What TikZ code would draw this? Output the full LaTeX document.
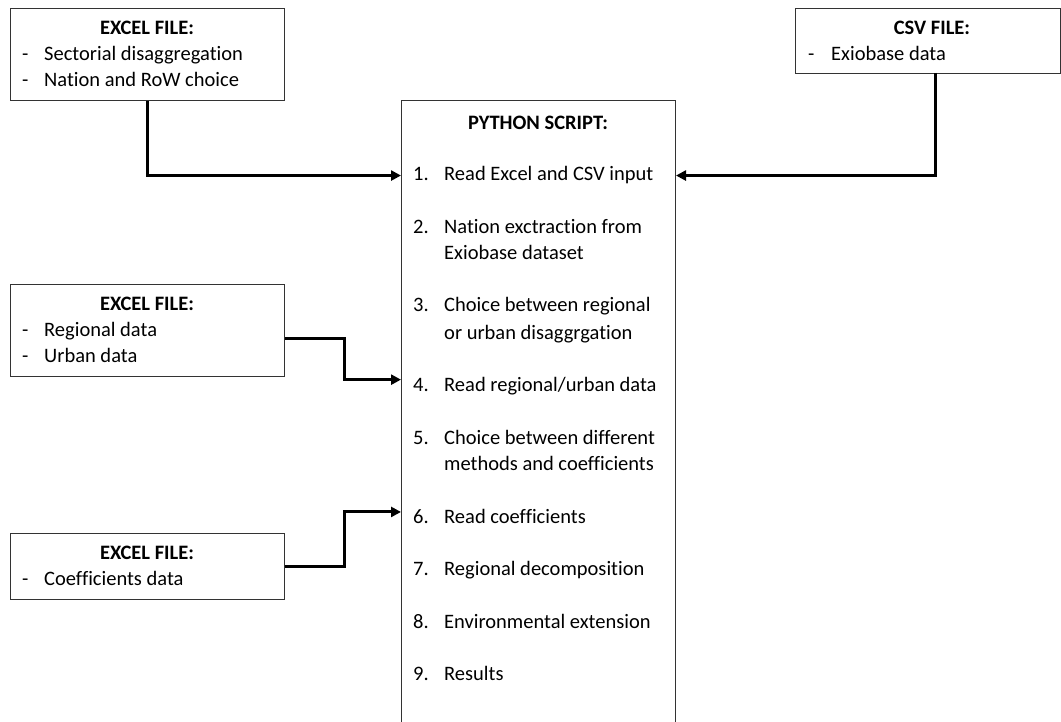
\documentclass[tikz,border=0pt]{standalone}
\usepackage{fontspec}
\setmainfont{Carlito}[Ligatures=NoCommon]
\usetikzlibrary{arrows.meta}

\begin{document}
\begin{tikzpicture}[x=1pt, y=-1pt]
\tikzset{boite/.style={draw=black!80, line width=1pt, fill=white, rectangle, inner sep=0pt, anchor=north west},
	titre/.style={font=\fontsize{20.5}{24}\selectfont\bfseries, inner sep=0pt, anchor=base},
	texte/.style={font=\fontsize{20.5}{24}\selectfont, anchor=base west, inner sep=0pt},
	fleche/.style={-{Triangle[length=10pt, width=10pt]}, line width=3pt}};

\useasboundingbox (0,0) rectangle (1061,722);
\clip (0,0) rectangle (1061,722);

% boites
\node[boite, minimum width=274pt, minimum height=92pt] (excelA) at (10,8) {};
\node[boite, minimum width=265pt, minimum height=65pt] (csv) at (795,8) {};
\node[boite, minimum width=274pt, minimum height=660pt] (python) at (401,100) {};
\node[boite, minimum width=274pt, minimum height=92pt] (excelB) at (10,284) {};
\node[boite, minimum width=274pt, minimum height=66pt] (excelC) at (10,533) {};

% fichiers
\node[titre] (tA) at (147,35) {EXCEL FILE:};
\node[texte] (dA1) at (22,61) {-};
\node[texte] (lA1) at (44,61) {Sectorial disaggregation};
\node[texte] (dA2) at (22,87) {-};
\node[texte] (lA2) at (44,87) {Nation and RoW choice};

\node[titre] (tcsv) at (932,35) {CSV FILE:};
\node[texte] (dcsv) at (808,61) {-};
\node[texte] (lcsv) at (831,61) {Exiobase data};

\node[titre] (tB) at (147,310) {EXCEL FILE:};
\node[texte] (dB1) at (22,336) {-};
\node[texte] (lB1) at (44,336) {Regional data};
\node[texte] (dB2) at (22,362) {-};
\node[texte] (lB2) at (44,362) {Urban data};

\node[titre] (tC) at (147,559) {EXCEL FILE:};
\node[texte] (dC) at (22,585) {-};
\node[texte] (lC) at (44,585) {Coefficients data};

% script
\node[titre] (tpy) at (538,130) {PYTHON SCRIPT:};
\foreach \num/\y in {1/181, 2/234, 3/312, 4/391, 5/444, 6/523, 7/575, 8/628, 9/680}
	\node[texte] (k\num) at (413,\y) {\num.};
\node[texte] (n1) at (444,181) {Read Excel and CSV input};
\node[texte] (n2) at (444,234) {Nation exctraction from};
\node[texte] (n2b) at (444,260) {Exiobase dataset};
\node[texte] (n3) at (444,312) {Choice between regional};
\node[texte] (n3b) at (444,339) {or urban disaggrgation};
\node[texte] (n4) at (444,391) {Read regional/urban data};
\node[texte] (n5) at (444,444) {Choice between different};
\node[texte] (n5b) at (444,470) {methods and coefficients};
\node[texte] (n6) at (444,523) {Read coefficients};
\node[texte] (n7) at (444,575) {Regional decomposition};
\node[texte] (n8) at (444,628) {Environmental extension};
\node[texte] (n9) at (444,680) {Results};

% fleches
\coordinate (csvout) at (935,73);
\draw[fleche] (excelA.south) |- (python.west |- n1);
\draw[fleche] (csvout) |- (python.east |- n1);
\draw[fleche] ([yshift=-8pt]excelB.east) -- ++(59,0) |- ([yshift=6pt]python.west |- n4);
\draw[fleche] (excelC.east) -- ++(59,0) |- ([yshift=4pt]python.west |- n6);
\end{tikzpicture}
\end{document}
